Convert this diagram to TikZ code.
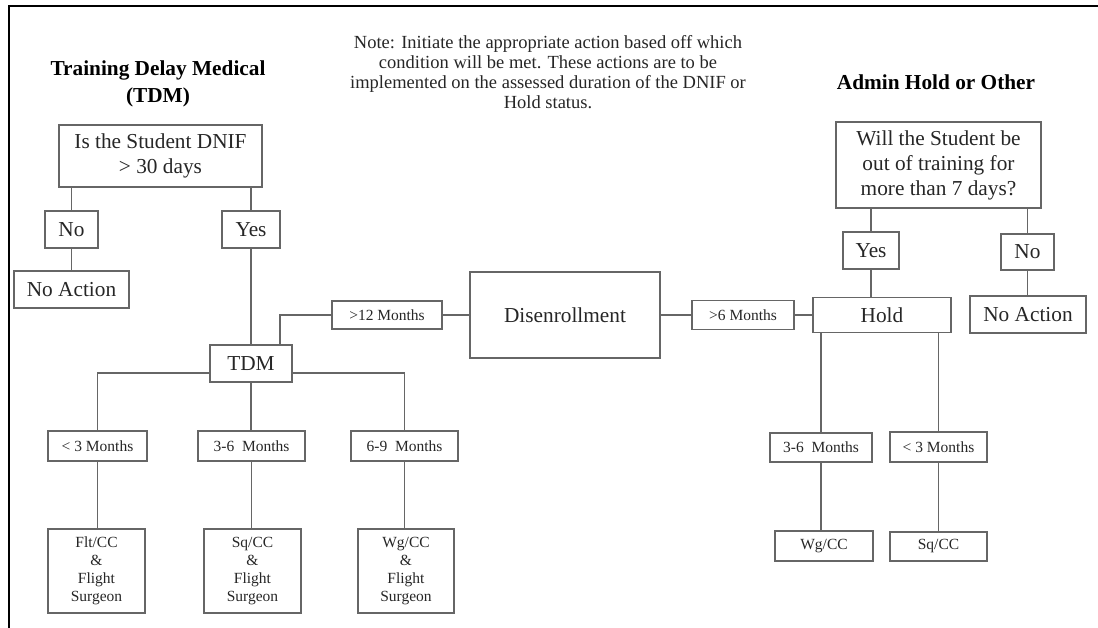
\documentclass[tikz,border=0pt]{standalone}
\usepackage{fontspec}
\setmainfont{Liberation Serif}

\begin{document}
\begin{tikzpicture}[x=1pt,y=-1pt,
        bigbox/.style={draw=black!60,line width=1.5pt,text=black!85,inner sep=0pt,align=center,
            font=\fontsize{21.3}{25}\selectfont},
        smallbox/.style={bigbox,font=\fontsize{15.5}{18}\selectfont},
        conn/.style={draw=black!60,line width=1.5pt},
        title/.style={text=black,align=center,font=\bfseries\fontsize{21.3}{27}\selectfont}]
        \useasboundingbox (0,0) rectangle (1098,628);
        % 枠
        \draw[line width=2pt] (9,628) -- (9,6) -- (1098,6);
        % 見出し
        \node[title] (tdmtitle) at (158,83.5) {Training Delay Medical\\(TDM)};
        \node[title] (admintitle) at (936,82) {Admin Hold or Other};
        \node[text=black!85,align=center,font=\fontsize{18.5}{20}\selectfont] (note) at (548,72)
            {Note: Initiate the appropriate action based off which\\condition will be met. These actions are to be\\implemented on the assessed duration of the DNIF or\\Hold status.};
        % TDM 側
        \node[bigbox,minimum width=203pt,minimum height=62pt] (dnif) at (160.5,156) {Is the Student DNIF\\> 30 days};
        \node[bigbox,minimum width=53pt,minimum height=37pt] (noL) at (71.5,229.5) {No};
        \node[bigbox,minimum width=58pt,minimum height=37pt] (yesL) at (251,229.5) {Yes};
        \node[bigbox,minimum width=115pt,minimum height=37pt] (noactL) at (71.5,289.5) {No Action};
        \node[bigbox,minimum width=82pt,minimum height=37pt] (tdm) at (251,363.5) {TDM};
        \node[smallbox,minimum width=99pt,minimum height=30pt] (lthree) at (97.5,446) {< 3 Months};
        \node[smallbox,minimum width=107pt,minimum height=30pt] (lthreesix) at (251.5,446) {3-6\ \ Months};
        \node[smallbox,minimum width=107pt,minimum height=30pt] (lsixnine) at (404.5,446) {6-9\ \ Months};
        \node[smallbox,minimum width=97pt,minimum height=84pt] (flt) at (96.5,571) {Flt/CC\\\&\\Flight\\Surgeon};
        \node[smallbox,minimum width=97pt,minimum height=84pt] (sqL) at (252.5,571) {Sq/CC\\\&\\Flight\\Surgeon};
        \node[smallbox,minimum width=96pt,minimum height=84pt] (wgL) at (406,571) {Wg/CC\\\&\\Flight\\Surgeon};
        % 中央
        \node[smallbox,minimum width=110pt,minimum height=28pt] (twelve) at (387,315) {>12 Months};
        \node[bigbox,minimum width=190pt,minimum height=86pt] (disen) at (565,315) {Disenrollment};
        \node[smallbox,minimum width=102pt,minimum height=29pt] (six) at (743,315) {>6 Months};
        % Admin 側
        \node[bigbox,minimum width=205pt,minimum height=86pt] (will) at (938.5,165) {Will the Student be\\out of training for\\more than 7 days?};
        \node[bigbox,minimum width=56pt,minimum height=37pt] (yesR) at (871,250.5) {Yes};
        \node[bigbox,minimum width=53pt,minimum height=36pt] (noR) at (1027.5,252) {No};
        \node[bigbox,minimum width=138pt,minimum height=35pt] (hold) at (882,315) {Hold};
        \node[bigbox,minimum width=116pt,minimum height=37pt] (noactR) at (1028,314.5) {No Action};
        \node[smallbox,minimum width=102pt,minimum height=29pt] (rthreesix) at (821,447.5) {3-6\ \ Months};
        \node[smallbox,minimum width=97pt,minimum height=30pt] (rthree) at (938.5,447) {< 3 Months};
        \node[smallbox,minimum width=98pt,minimum height=30pt] (wgR) at (824,546) {Wg/CC};
        \node[smallbox,minimum width=97pt,minimum height=29pt] (sqR) at (938.5,546.5) {Sq/CC};
        % 接続線
        \draw[conn] (dnif.south -| noL) -- (noL);
        \draw[conn] (noL) -- (noactL);
        \draw[conn] (dnif.south -| yesL) -- (yesL);
        \draw[conn] (yesL) -- (tdm);
        \draw[conn] ([xshift=-13pt]tdm.north east) |- (twelve.west);
        \draw[conn] (twelve) -- (disen);
        \draw[conn] (disen) -- (six);
        \draw[conn] (six) -- (hold);
        \draw[conn] ([yshift=-9.5pt]tdm.west) -| (lthree.north);
        \draw[conn] (tdm) -- (tdm |- lthreesix.north);
        \draw[conn] ([yshift=-9.5pt]tdm.east) -| (lsixnine.north);
        \draw[conn] (lthree) -- (lthree |- flt.north);
        \draw[conn] (lthreesix) -- (lthreesix |- sqL.north);
        \draw[conn] (lsixnine) -- (lsixnine |- wgL.north);
        \draw[conn] (will.south -| yesR) -- (yesR);
        \draw[conn] (yesR) -- (yesR |- hold.north);
        \draw[conn] (will.south -| noR) -- (noR);
        \draw[conn] (noR) -- (noR |- noactR.north);
        \draw[conn] (hold.south -| rthreesix) -- (rthreesix);
        \draw[conn] (hold.south -| rthree) -- (rthree);
        \draw[conn] (rthreesix) -- (rthreesix |- wgR.north);
        \draw[conn] (rthree) -- (sqR);
    \end{tikzpicture}
\end{document}
